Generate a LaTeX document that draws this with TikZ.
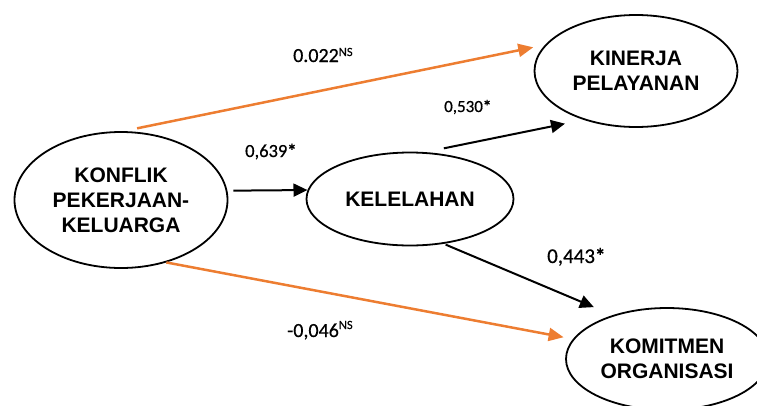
\documentclass[tikz,border=0pt]{standalone}
\usepackage{fontspec}
\setmainfont{Liberation Sans}
\newfontfamily\labfont[FakeBold=0.6]{Carlito}
\usetikzlibrary{arrows.meta,shapes.geometric}
\definecolor{orangeline}{RGB}{237,125,49}
\begin{document}
\begin{tikzpicture}[x=1pt,y=-1pt,
  var/.style={draw=black, line width=1.8pt, ellipse, inner sep=0pt, align=center,
    font=\fontsize{21}{25}\selectfont\bfseries},
  blk/.style={draw=black, line width=2pt, -{Triangle[length=14pt,width=13pt]}},
  org/.style={draw=orangeline, line width=2.5pt, -{Triangle[length=15pt,width=13pt]}},
  coef/.style={inner sep=0pt, anchor=base west, font=\labfont}]
\useasboundingbox (0,0) rectangle (757,405);
\node[var, minimum width=213pt, minimum height=136pt] (kon) at (121,200) {KONFLIK\\PEKERJAAN-\\KELUARGA};
\node[var, minimum width=207pt, minimum height=93pt] (kel) at (410,199) {KELELAHAN};
\node[var, minimum width=203pt, minimum height=112pt] (kin) at (636,71) {KINERJA\\PELAYANAN};
\node[var, minimum width=202pt, minimum height=102pt] (kom) at (667,359) {KOMITMEN\\ORGANISASI};
\draw[org, shorten <=14pt, shorten >=12pt] (kon.88) -- (kin.164);
\draw[org, shorten >=9.5pt] (kon.-54) -- (kom.168);
\draw[blk, shorten <=6pt] (kon.5) -- (kel.175);
\draw[blk, shorten <=19pt, shorten >=19pt] (kel.72) -- (kin.223);
\draw[blk, shorten <=2pt, shorten >=20.5pt] (kel.-53) -- (kom.141.5);
\node[coef] (l1) at (293,62) {\fontsize{20}{20}\selectfont 0.022\raisebox{6pt}{\fontsize{12.5}{12}\selectfont NS}};
\node[coef] (l2) at (444,112) {\fontsize{17}{18}\selectfont 0,530\textbf{*}};
\node[coef] (l3) at (245,157) {\fontsize{18.5}{20}\selectfont 0,639\textbf{*}};
\node[coef] (l4) at (547,263) {\fontsize{21}{22}\selectfont 0,443\textbf{*}};
\node[coef] (l5) at (287,337) {\fontsize{20}{20}\selectfont -0,046\raisebox{8pt}{\fontsize{12.5}{12}\selectfont NS}};
\end{tikzpicture}
\end{document}
